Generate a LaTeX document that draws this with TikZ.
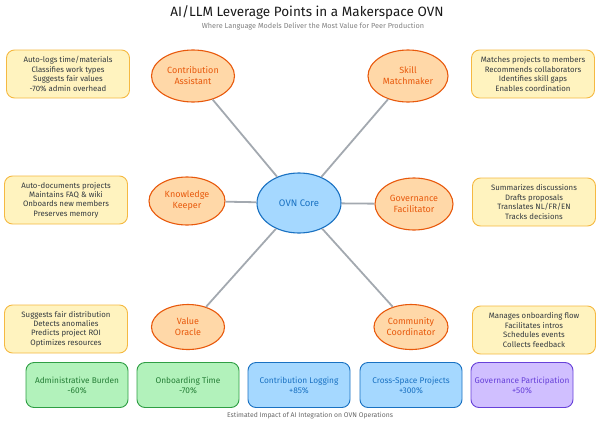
\documentclass[tikz,border=0pt]{standalone}
\usepackage{fontspec}
\setmainfont{Fira Sans}
\usetikzlibrary{shapes.geometric}

\definecolor{agentfill}{HTML}{FFD8A8}
\definecolor{agentline}{HTML}{E8590C}
\definecolor{corefill}{HTML}{A5D8FF}
\definecolor{coreline}{HTML}{1971C2}
\definecolor{notefill}{HTML}{FFF3BF}
\definecolor{noteline}{HTML}{F5B942}
\definecolor{greenfill}{HTML}{B2F2BB}
\definecolor{greenline}{HTML}{2F9E44}
\definecolor{purplefill}{HTML}{D0BFFF}
\definecolor{purpleline}{HTML}{6741D9}
\definecolor{spokecol}{HTML}{A3A9B0}
\definecolor{inkcol}{HTML}{343A40}

\begin{document}
\begin{tikzpicture}[x=1pt,y=-1pt,
	agent/.style={ellipse,draw=agentline,fill=agentfill,line width=1.1pt,text=agentline,
		minimum width=80pt,minimum height=50pt,inner sep=0pt,align=center,
		font=\fontsize{9}{11}\selectfont},
	note/.style={rectangle,rounded corners=8pt,draw=noteline,fill=notefill,line width=0.9pt,
		minimum width=123pt,minimum height=48pt,inner sep=2pt,align=center,text=inkcol,
		font=\fontsize{7.8}{9.4}\selectfont},
	metric/.style={rectangle,rounded corners=8pt,line width=0.9pt,minimum width=102pt,
		minimum height=45pt,inner sep=2pt,align=center,font=\fontsize{8.3}{10}\selectfont},
	spoke/.style={draw=spokecol,line width=1.8pt}]
	\useasboundingbox (0,0) rectangle (600,426);
	{
	\node[font=\fontsize{13.5}{15}\selectfont,text=black!90] (title) at (307,12) {AI/LLM Leverage Points in a Makerspace OVN};
	\node[font=\fontsize{7.3}{8}\selectfont,text=black!50] (subtitle) at (313,26) {Where Language Models Deliver the Most Value for Peer Production};

	\node[agent,minimum height=60pt,fill=corefill,draw=coreline,text=coreline,minimum width=84pt,font=\fontsize{9.5}{11}\selectfont] (core) at (299,203) {OVN Core};

	\node[agent,minimum width=83pt,minimum height=52pt] (contrib) at (193,76) {Contribution\\Assistant};
	\node[agent,minimum height=52pt] (skill) at (408,76) {Skill\\Matchmaker};
	\node[agent,minimum width=76pt,minimum height=48pt] (knowledge) at (187,201) {Knowledge\\Keeper};
	\node[agent,minimum width=78pt,minimum height=52pt] (gov) at (414,204) {Governance\\Facilitator};
	\node[agent,minimum width=73pt,minimum height=45pt] (oracle) at (188,327) {Value\\Oracle};
	\node[agent,minimum width=74pt,minimum height=45pt] (community) at (411,327) {Community\\Coordinator};

	\draw[spoke] (core) -- (contrib);
	\draw[spoke] (core) -- (skill);
	\draw[spoke] (core) -- (knowledge);
	\draw[spoke] (core) -- (gov);
	\draw[spoke] (core) -- (oracle);
	\draw[spoke] (core) -- (community);

	\node[note] (contribnote) at (68,74) {Auto-logs time/materials\\Classifies work types\\Suggests fair values\\-70\% admin overhead};
	\node[note] (skillnote) at (533,74) {Matches projects to members\\Recommends collaborators\\Identifies skill gaps\\Enables coordination};
	\node[note] (knowledgenote) at (66,200) {Auto-documents projects\\Maintains FAQ \& wiki\\Onboards new members\\Preserves memory};
	\node[note] (govnote) at (534,202) {Summarizes discussions\\Drafts proposals\\Translates NL/FR/EN\\Tracks decisions};
	\node[note] (oraclenote) at (66,329) {Suggests fair distribution\\Detects anomalies\\Predicts project ROI\\Optimizes resources};
	\node[note] (communitynote) at (534,330) {Manages onboarding flow\\Facilitates intros\\Schedules events\\Collects feedback};

	\node[metric,fill=greenfill,draw=greenline,text=greenline!80!black] (admin) at (77,385) {Administrative Burden\\-60\%};
	\node[metric,fill=greenfill,draw=greenline,text=greenline!80!black] (onboard) at (188,385) {Onboarding Time\\-70\%};
	\node[metric,fill=corefill,draw=coreline,text=coreline] (logging) at (299,385) {Contribution Logging\\+85\%};
	\node[metric,fill=corefill,draw=coreline,text=coreline] (cross) at (411,385) {Cross-Space Projects\\+300\%};
	\node[metric,fill=purplefill,draw=purpleline,text=purpleline] (participation) at (522,385) {Governance Participation\\+50\%};

	\node[font=\fontsize{6.8}{8}\selectfont,text=black!60] (caption) at (310,416) {Estimated Impact of AI Integration on OVN Operations};
	}
\end{tikzpicture}
\end{document}
